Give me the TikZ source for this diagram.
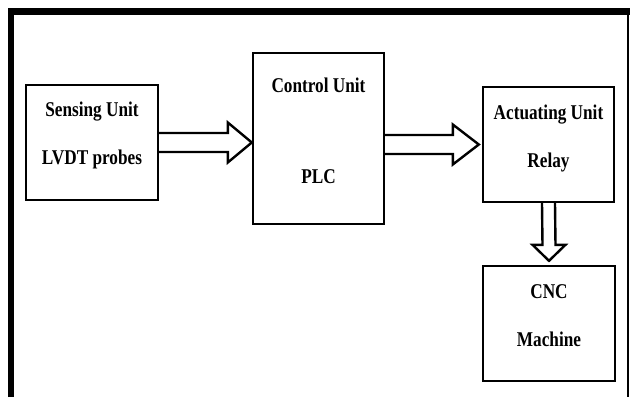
\documentclass[tikz,border=0pt]{standalone}
\usepackage{fontspec}
\setmainfont{Liberation Serif}[FakeStretch=0.82]
\begin{document}
\begin{tikzpicture}[x=1pt,y=-1pt,
  box/.style={draw=black,line width=2.4pt,rectangle,inner sep=0pt,fill=white},
  lbl/.style={anchor=base,inner sep=0pt,font=\fontsize{21}{25}\selectfont\bfseries},
  blockarrow/.style={draw=black,line width=2.4pt,line join=miter,fill=white}]
\useasboundingbox (0,0) rectangle (630,397);
\fill[white] (0,0) rectangle (630,397);
% outer frame
\draw[line width=6.5pt] (11,397) -- (11,11.25) -- (630,11.25);
\draw[line width=1.5pt] (628,14) -- (628,397);
% boxes
\node[box,minimum width=132,minimum height=115] (sense) at (92,142.5) {};
\node[box,minimum width=131,minimum height=171] (ctrl) at (318.5,138.5) {};
\node[box,minimum width=131,minimum height=115] (act) at (548.5,144.5) {};
\node[box,minimum width=132,minimum height=115] (cnc) at (549,323.5) {};
% labels
\node[lbl] (t1) at (92,116.5) {Sensing Unit};
\node[lbl] (t2) at (92,164) {LVDT probes};
\node[lbl] (t3) at (318.5,92) {Control Unit};
\node[lbl] (t4) at (318.5,183) {PLC};
\node[lbl] (t5) at (548.5,119) {Actuating Unit};
\node[lbl] (t6) at (548.5,167) {Relay};
\node[lbl] (t7) at (549,298) {CNC};
\node[lbl] (t8) at (549,346) {Machine};
% block arrows
\coordinate (a1) at (ctrl.west |- sense.east);
\draw[blockarrow] ([yshift=-9.5]sense.east) -- ([xshift=-24,yshift=-9.5]a1) -- ([xshift=-24,yshift=-20]a1) -- (a1)
  -- ([xshift=-24,yshift=20]a1) -- ([xshift=-24,yshift=9.5]a1) -- ([yshift=9.5]sense.east);
\coordinate (a2) at ([xshift=-3]act.west);
\draw[blockarrow] ([yshift=-9.5]ctrl.east |- a2) -- ([xshift=-26,yshift=-9.5]a2) -- ([xshift=-26,yshift=-20]a2) -- (a2)
  -- ([xshift=-26,yshift=20]a2) -- ([xshift=-26,yshift=9.5]a2) -- ([yshift=9.5]ctrl.east |- a2);
\coordinate (a3) at ([yshift=4]cnc.north);
\draw[blockarrow] ([xshift=-6.5]act.south) -- ([xshift=-6.5,yshift=16]a3) -- ([xshift=-16.5,yshift=16]a3) -- (a3)
  -- ([xshift=16.5,yshift=16]a3) -- ([xshift=6.5,yshift=16]a3) -- ([xshift=6.5]act.south);
\end{tikzpicture}
\end{document}
